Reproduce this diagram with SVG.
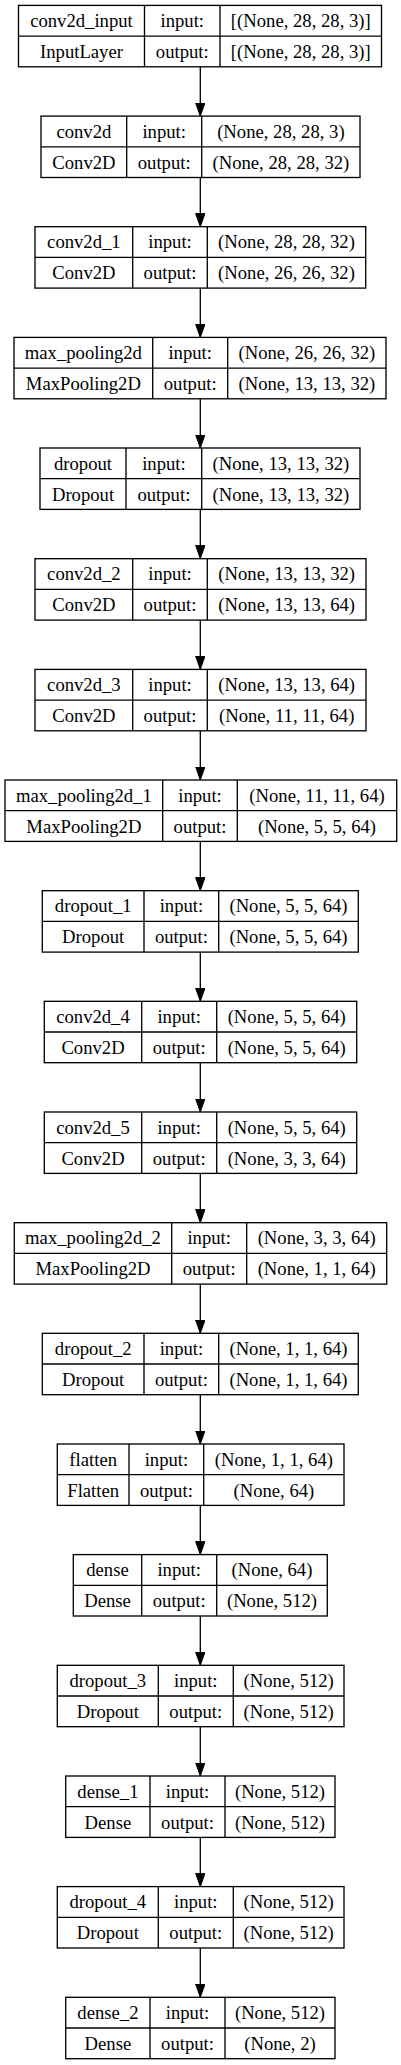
<svg xmlns="http://www.w3.org/2000/svg" width="401" height="2065" viewBox="0 0 401 2065" font-family="'Liberation Serif', Tinos, 'Times New Roman', Times, 'DejaVu Serif', serif">
<style>
.b{fill:#fff;stroke:#000;stroke-width:1.33}
.d{fill:none;stroke:#000;stroke-width:1.33}
text{font-family:'Liberation Serif', Tinos, 'Times New Roman', Times, 'DejaVu Serif', serif;font-size:18.67px;fill:#000;text-anchor:middle}
.e{fill:none;stroke:#000;stroke-width:1.33}
</style>
<defs>
<marker id="ah" markerUnits="userSpaceOnUse" markerWidth="14" markerHeight="11" refX="13.3" refY="5" orient="auto"><path d="M0,0.3 L13.3,5 L0,9.7 z" fill="#000" stroke="#000" stroke-width="1"/></marker>
</defs>
<rect width="401" height="2065" fill="#fff"/>
<g id="edges">
<path class="e" marker-end="url(#ah)" d="M200.3,66.8 V116.1"/>
<path class="e" marker-end="url(#ah)" d="M200.3,177.5 V226.7"/>
<path class="e" marker-end="url(#ah)" d="M200.3,288.1 V337.4"/>
<path class="e" marker-end="url(#ah)" d="M200.3,398.8 V448.0"/>
<path class="e" marker-end="url(#ah)" d="M200.3,509.4 V558.7"/>
<path class="e" marker-end="url(#ah)" d="M200.3,620.1 V669.4"/>
<path class="e" marker-end="url(#ah)" d="M200.3,730.8 V780.0"/>
<path class="e" marker-end="url(#ah)" d="M200.3,841.4 V890.7"/>
<path class="e" marker-end="url(#ah)" d="M200.3,952.1 V1001.3"/>
<path class="e" marker-end="url(#ah)" d="M200.3,1062.7 V1112.0"/>
<path class="e" marker-end="url(#ah)" d="M200.3,1173.4 V1222.7"/>
<path class="e" marker-end="url(#ah)" d="M200.3,1284.1 V1333.3"/>
<path class="e" marker-end="url(#ah)" d="M200.3,1394.7 V1444.0"/>
<path class="e" marker-end="url(#ah)" d="M200.3,1505.4 V1554.6"/>
<path class="e" marker-end="url(#ah)" d="M200.3,1616.0 V1665.3"/>
<path class="e" marker-end="url(#ah)" d="M200.3,1726.7 V1776.0"/>
<path class="e" marker-end="url(#ah)" d="M200.3,1837.4 V1886.6"/>
<path class="e" marker-end="url(#ah)" d="M200.3,1948.0 V1997.3"/>
</g>
<g id="conv2d_input">
<rect class="b" x="18.5" y="5.4" width="363" height="61.4"/>
<path class="d" d="M18.5,36.1 H381.5 M144.5,5.4 V66.8 M220,5.4 V66.8"/>
<text x="81.5" y="26.9">conv2d_input</text><text x="182.3" y="26.9">input:</text><text x="300.8" y="26.9">[(None, 28, 28, 3)]</text>
<text x="81.5" y="57.9">InputLayer</text><text x="182.3" y="57.9">output:</text><text x="300.8" y="57.9">[(None, 28, 28, 3)]</text>
</g>
<g id="conv2d">
<rect class="b" x="41" y="116.1" width="319" height="61.4"/>
<path class="d" d="M41,146.8 H360 M126.7,116.1 V177.5 M201.7,116.1 V177.5"/>
<text x="83.9" y="137.6">conv2d</text><text x="164.2" y="137.6">input:</text><text x="280.9" y="137.6">(None, 28, 28, 3)</text>
<text x="83.9" y="168.6">Conv2D</text><text x="164.2" y="168.6">output:</text><text x="280.9" y="168.6">(None, 28, 28, 32)</text>
</g>
<g id="conv2d_1">
<rect class="b" x="35" y="226.7" width="330.7" height="61.4"/>
<path class="d" d="M35,257.4 H365.7 M132.7,226.7 V288.1 M207.3,226.7 V288.1"/>
<text x="83.9" y="248.2">conv2d_1</text><text x="170" y="248.2">input:</text><text x="286.5" y="248.2">(None, 28, 28, 32)</text>
<text x="83.9" y="279.2">Conv2D</text><text x="170" y="279.2">output:</text><text x="286.5" y="279.2">(None, 26, 26, 32)</text>
</g>
<g id="max_pooling2d">
<rect class="b" x="14" y="337.4" width="372" height="61.4"/>
<path class="d" d="M14,368.1 H386 M152.7,337.4 V398.8 M227.7,337.4 V398.8"/>
<text x="83.4" y="358.9">max_pooling2d</text><text x="190.2" y="358.9">input:</text><text x="306.9" y="358.9">(None, 26, 26, 32)</text>
<text x="83.4" y="389.9">MaxPooling2D</text><text x="190.2" y="389.9">output:</text><text x="306.9" y="389.9">(None, 13, 13, 32)</text>
</g>
<g id="dropout">
<rect class="b" x="40" y="448.0" width="320" height="61.4"/>
<path class="d" d="M40,478.7 H360 M126,448.0 V509.4 M201.7,448.0 V509.4"/>
<text x="83" y="469.5">dropout</text><text x="163.9" y="469.5">input:</text><text x="280.9" y="469.5">(None, 13, 13, 32)</text>
<text x="83" y="500.5">Dropout</text><text x="163.9" y="500.5">output:</text><text x="280.9" y="500.5">(None, 13, 13, 32)</text>
</g>
<g id="conv2d_2">
<rect class="b" x="35" y="558.7" width="331" height="61.4"/>
<path class="d" d="M35,589.4 H366 M132.7,558.7 V620.1 M207.3,558.7 V620.1"/>
<text x="83.9" y="580.2">conv2d_2</text><text x="170" y="580.2">input:</text><text x="286.7" y="580.2">(None, 13, 13, 32)</text>
<text x="83.9" y="611.2">Conv2D</text><text x="170" y="611.2">output:</text><text x="286.7" y="611.2">(None, 13, 13, 64)</text>
</g>
<g id="conv2d_3">
<rect class="b" x="35" y="669.4" width="331" height="61.4"/>
<path class="d" d="M35,700.1 H366 M132.7,669.4 V730.8 M207.3,669.4 V730.8"/>
<text x="83.9" y="690.9">conv2d_3</text><text x="170" y="690.9">input:</text><text x="286.7" y="690.9">(None, 13, 13, 64)</text>
<text x="83.9" y="721.9">Conv2D</text><text x="170" y="721.9">output:</text><text x="286.7" y="721.9">(None, 11, 11, 64)</text>
</g>
<g id="max_pooling2d_1">
<rect class="b" x="5" y="780.0" width="391.7" height="61.4"/>
<path class="d" d="M5,810.7 H396.7 M162.7,780.0 V841.4 M237.3,780.0 V841.4"/>
<text x="83.9" y="801.5">max_pooling2d_1</text><text x="200" y="801.5">input:</text><text x="317" y="801.5">(None, 11, 11, 64)</text>
<text x="83.9" y="832.5">MaxPooling2D</text><text x="200" y="832.5">output:</text><text x="317" y="832.5">(None, 5, 5, 64)</text>
</g>
<g id="dropout_1">
<rect class="b" x="42.3" y="890.7" width="316" height="61.4"/>
<path class="d" d="M42.3,921.4 H358.3 M144,890.7 V952.1 M218.7,890.7 V952.1"/>
<text x="93.2" y="912.2">dropout_1</text><text x="181.4" y="912.2">input:</text><text x="288.5" y="912.2">(None, 5, 5, 64)</text>
<text x="93.2" y="943.2">Dropout</text><text x="181.4" y="943.2">output:</text><text x="288.5" y="943.2">(None, 5, 5, 64)</text>
</g>
<g id="conv2d_4">
<rect class="b" x="44.3" y="1001.3" width="312.4" height="61.4"/>
<path class="d" d="M44.3,1032.0 H356.7 M141.7,1001.3 V1062.7 M216.7,1001.3 V1062.7"/>
<text x="93" y="1022.8">conv2d_4</text><text x="179.2" y="1022.8">input:</text><text x="286.7" y="1022.8">(None, 5, 5, 64)</text>
<text x="93" y="1053.8">Conv2D</text><text x="179.2" y="1053.8">output:</text><text x="286.7" y="1053.8">(None, 5, 5, 64)</text>
</g>
<g id="conv2d_5">
<rect class="b" x="44.3" y="1112.0" width="312.4" height="61.4"/>
<path class="d" d="M44.3,1142.7 H356.7 M141.7,1112.0 V1173.4 M216.7,1112.0 V1173.4"/>
<text x="93" y="1133.5">conv2d_5</text><text x="179.2" y="1133.5">input:</text><text x="286.7" y="1133.5">(None, 5, 5, 64)</text>
<text x="93" y="1164.5">Conv2D</text><text x="179.2" y="1164.5">output:</text><text x="286.7" y="1164.5">(None, 3, 3, 64)</text>
</g>
<g id="max_pooling2d_2">
<rect class="b" x="14.3" y="1222.7" width="372.4" height="61.4"/>
<path class="d" d="M14.3,1253.4 H386.7 M171.7,1222.7 V1284.1 M246.7,1222.7 V1284.1"/>
<text x="93" y="1244.2">max_pooling2d_2</text><text x="209.2" y="1244.2">input:</text><text x="316.7" y="1244.2">(None, 3, 3, 64)</text>
<text x="93" y="1275.2">MaxPooling2D</text><text x="209.2" y="1275.2">output:</text><text x="316.7" y="1275.2">(None, 1, 1, 64)</text>
</g>
<g id="dropout_2">
<rect class="b" x="42.3" y="1333.3" width="316" height="61.4"/>
<path class="d" d="M42.3,1364.0 H358.3 M144,1333.3 V1394.7 M218.7,1333.3 V1394.7"/>
<text x="93.2" y="1354.8">dropout_2</text><text x="181.4" y="1354.8">input:</text><text x="288.5" y="1354.8">(None, 1, 1, 64)</text>
<text x="93.2" y="1385.8">Dropout</text><text x="181.4" y="1385.8">output:</text><text x="288.5" y="1385.8">(None, 1, 1, 64)</text>
</g>
<g id="flatten">
<rect class="b" x="57.3" y="1444.0" width="286.7" height="61.4"/>
<path class="d" d="M57.3,1474.7 H344 M129,1444.0 V1505.4 M203.7,1444.0 V1505.4"/>
<text x="93.2" y="1465.5">flatten</text><text x="166.4" y="1465.5">input:</text><text x="273.9" y="1465.5">(None, 1, 1, 64)</text>
<text x="93.2" y="1496.5">Flatten</text><text x="166.4" y="1496.5">output:</text><text x="273.9" y="1496.5">(None, 64)</text>
</g>
<g id="dense">
<rect class="b" x="73.3" y="1554.6" width="254" height="61.4"/>
<path class="d" d="M73.3,1585.3 H327.3 M141.7,1554.6 V1616.0 M216.7,1554.6 V1616.0"/>
<text x="107.5" y="1576.1">dense</text><text x="179.2" y="1576.1">input:</text><text x="272" y="1576.1">(None, 64)</text>
<text x="107.5" y="1607.1">Dense</text><text x="179.2" y="1607.1">output:</text><text x="272" y="1607.1">(None, 512)</text>
</g>
<g id="dropout_3">
<rect class="b" x="57.3" y="1665.3" width="286.7" height="61.4"/>
<path class="d" d="M57.3,1696.0 H344 M158.3,1665.3 V1726.7 M233.3,1665.3 V1726.7"/>
<text x="107.8" y="1686.8">dropout_3</text><text x="195.8" y="1686.8">input:</text><text x="288.7" y="1686.8">(None, 512)</text>
<text x="107.8" y="1717.8">Dropout</text><text x="195.8" y="1717.8">output:</text><text x="288.7" y="1717.8">(None, 512)</text>
</g>
<g id="dense_1">
<rect class="b" x="65.7" y="1776.0" width="269.3" height="61.4"/>
<path class="d" d="M65.7,1806.7 H335 M150,1776.0 V1837.4 M225,1776.0 V1837.4"/>
<text x="107.9" y="1797.5">dense_1</text><text x="187.5" y="1797.5">input:</text><text x="280" y="1797.5">(None, 512)</text>
<text x="107.9" y="1828.5">Dense</text><text x="187.5" y="1828.5">output:</text><text x="280" y="1828.5">(None, 512)</text>
</g>
<g id="dropout_4">
<rect class="b" x="57.3" y="1886.6" width="286.7" height="61.4"/>
<path class="d" d="M57.3,1917.3 H344 M158.3,1886.6 V1948.0 M233.3,1886.6 V1948.0"/>
<text x="107.8" y="1908.1">dropout_4</text><text x="195.8" y="1908.1">input:</text><text x="288.7" y="1908.1">(None, 512)</text>
<text x="107.8" y="1939.1">Dropout</text><text x="195.8" y="1939.1">output:</text><text x="288.7" y="1939.1">(None, 512)</text>
</g>
<g id="dense_2">
<rect class="b" x="65.7" y="1997.3" width="269.3" height="61.4"/>
<path class="d" d="M65.7,2028.0 H335 M150,1997.3 V2058.7 M225,1997.3 V2058.7"/>
<text x="107.9" y="2018.8">dense_2</text><text x="187.5" y="2018.8">input:</text><text x="280" y="2018.8">(None, 512)</text>
<text x="107.9" y="2049.8">Dense</text><text x="187.5" y="2049.8">output:</text><text x="280" y="2049.8">(None, 2)</text>
</g>
</svg>
